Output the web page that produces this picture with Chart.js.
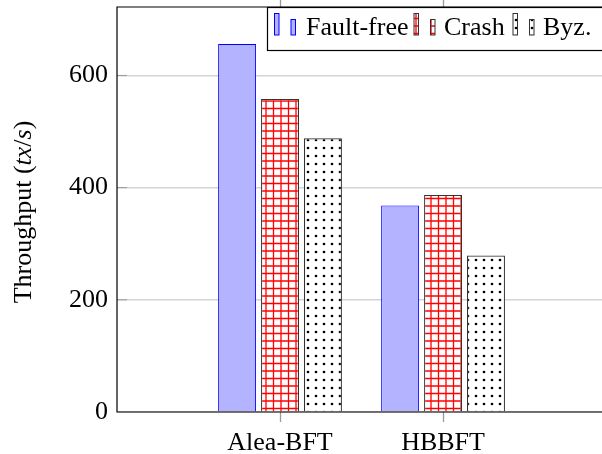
<!DOCTYPE html>
<html>
<head>
<meta charset="utf-8">
<script src="https://cdn.jsdelivr.net/npm/chart.js@4"></script>
<style>
html,body{margin:0;padding:0;background:#fff;}
canvas{display:block;}
</style>
</head>
<body>
<canvas id="c" width="602" height="454"></canvas>
<script>
// ---- data ----
const categories = ['Alea-BFT', 'HBBFT'];
const seriesNames = ['Fault-free', 'Crash', 'Byz.'];
const faultFree = [656, 368];
const crash = [558, 387];
const byz = [488, 279];
const yTicks = [0, 200, 400, 600];

const FONT = '"Liberation Serif", "Times New Roman", serif';

function makeGridPattern() {
  const c = document.createElement('canvas');
  c.width = 15; c.height = 15;
  const g = c.getContext('2d');
  g.fillStyle = '#fff'; g.fillRect(0, 0, 15, 15);
  g.strokeStyle = '#ff0000'; g.lineWidth = 1.3;
  g.beginPath();
  [3.5, 11].forEach(p => {
    g.moveTo(p, 0); g.lineTo(p, 15);
    g.moveTo(0, p); g.lineTo(15, p);
  });
  g.stroke();
  return g.createPattern(c, 'repeat');
}
function makeDotPattern() {
  const c = document.createElement('canvas');
  c.width = 8; c.height = 8;
  const g = c.getContext('2d');
  g.fillStyle = '#fff'; g.fillRect(0, 0, 8, 8);
  g.fillStyle = '#000';
  g.beginPath(); g.arc(4, 4, 1.35, 0, Math.PI * 2); g.fill();
  return g.createPattern(c, 'repeat');
}

const ctx = document.getElementById('c').getContext('2d');
const gridPat = makeGridPattern();
const dotPat = makeDotPattern();

const toXY = arr => arr.map((v, i) => ({ x: i, y: v }));

const decorPlugin = {
  id: 'decor',
  afterDatasetsDraw(chart) {
    const { ctx, chartArea: a, scales } = chart;
    ctx.save();
    // inner y tick marks
    ctx.strokeStyle = '#9a9a9a'; ctx.lineWidth = 1;
    yTicks.forEach(v => {
      if (v === 0) return;
      const y = scales.y.getPixelForValue(v);
      ctx.beginPath(); ctx.moveTo(a.left, y); ctx.lineTo(a.left + 10, y); ctx.stroke();
    });
    // x tick marks above top and below bottom
    ctx.lineWidth = 1.3;
    categories.forEach((_, i) => {
      const x = Math.round(scales.x.getPixelForValue(i)) + 0.5;
      ctx.beginPath(); ctx.moveTo(x, 0); ctx.lineTo(x, a.top); ctx.stroke();
      ctx.beginPath(); ctx.moveTo(x, a.bottom); ctx.lineTo(x, a.bottom + 10); ctx.stroke();
    });
    // frame
    ctx.strokeStyle = '#000'; ctx.lineWidth = 1.2;
    ctx.beginPath();
    ctx.moveTo(a.right + 2, a.top); ctx.lineTo(a.left, a.top);
    ctx.lineTo(a.left, a.bottom); ctx.lineTo(a.right + 2, a.bottom);
    ctx.stroke();
    ctx.restore();
  },
  afterDraw(chart) {
    const { ctx } = chart;
    ctx.save();
    // legend
    ctx.fillStyle = '#fff';
    ctx.fillRect(267.5, 7.5, 400, 43);
    ctx.strokeStyle = '#000'; ctx.lineWidth = 1.2;
    ctx.strokeRect(267.5, 7.5, 400, 43);
    const iconX = [274.5, 414, 513];
    const textX = [306, 444, 543];
    chart.data.datasets.forEach((ds, i) => {
      const x0 = iconX[i];
      const rects = [[x0, 13.5, 4.5, 21.5], [x0 + 16.5, 19.5, 4.5, 15.5]];
      rects.forEach(r => {
        ctx.fillStyle = ds.backgroundColor;
        ctx.fillRect(r[0], r[1], r[2], r[3]);
        ctx.strokeStyle = ds.borderColor; ctx.lineWidth = 1;
        ctx.strokeRect(r[0], r[1], r[2], r[3]);
      });
      ctx.fillStyle = '#000';
      ctx.font = '26px ' + FONT;
      ctx.textAlign = 'left'; ctx.textBaseline = 'alphabetic';
      ctx.fillText(ds.label, textX[i], 35);
    });
    // y-axis title with italic parts
    const segs = [
      ['Throughput (', ''], ['tx', 'italic '], ['/', ''], ['s', 'italic '], [')', '']
    ];
    let w = 0;
    segs.forEach(s => { ctx.font = s[1] + '26px ' + FONT; w += ctx.measureText(s[0]).width; });
    ctx.translate(31, 212);
    ctx.rotate(-Math.PI / 2);
    let x = -w / 2;
    ctx.fillStyle = '#000';
    segs.forEach(s => {
      ctx.font = s[1] + '26px ' + FONT;
      ctx.fillText(s[0], x, 0);
      x += ctx.measureText(s[0]).width;
    });
    ctx.restore();
  }
};

new Chart(ctx, {
  type: 'bar',
  data: {
    datasets: [
      { label: seriesNames[0], data: toXY(faultFree), backgroundColor: 'rgb(179,179,255)', borderColor: '#0000ff', borderWidth: 1 },
      { label: seriesNames[1], data: toXY(crash), backgroundColor: gridPat, borderColor: '#333', borderWidth: 1.2 },
      { label: seriesNames[2], data: toXY(byz), backgroundColor: dotPat, borderColor: '#333', borderWidth: 1.2 }
    ]
  },
  options: {
    responsive: false,
    animation: false,
    events: [],
    layout: { padding: { top: 7, right: 0, left: 0, bottom: 0 } },
    datasets: { bar: { categoryPercentage: 0.79, barPercentage: 0.884, borderSkipped: 'start' } },
    plugins: { legend: { display: false }, tooltip: { enabled: false }, title: { display: false } },
    scales: {
      x: {
        type: 'linear',
        min: -1.0,
        max: 1.975,
        offset: false,
        afterBuildTicks: s => { s.ticks = categories.map((_, i) => ({ value: i })); },
        afterFit: s => { s.height = 42; s.paddingLeft = 0; s.paddingRight = 0; },
        ticks: {
          callback: v => categories[v] !== undefined ? categories[v] : '',
          font: { family: FONT, size: 26 },
          color: '#000',
          padding: 6,
          maxRotation: 0,
          autoSkip: false
        },
        grid: { offset: false, drawOnChartArea: false, drawTicks: true, tickLength: 10, color: 'rgba(0,0,0,0)', lineWidth: 1 },
        border: { display: false }
      },
      y: {
        min: 0,
        max: 722,
        afterBuildTicks: s => { s.ticks = yTicks.map(v => ({ value: v })); },
        afterFit: s => { s.width = 117; s.paddingTop = 0; s.paddingBottom = 0; },
        ticks: {
          font: { family: FONT, size: 26 },
          color: '#000',
          padding: 9
        },
        grid: { drawTicks: false, color: '#d4d4d4', lineWidth: 1.5 },
        border: { display: false }
      }
    }
  },
  plugins: [decorPlugin]
});
</script>
</body>
</html>
